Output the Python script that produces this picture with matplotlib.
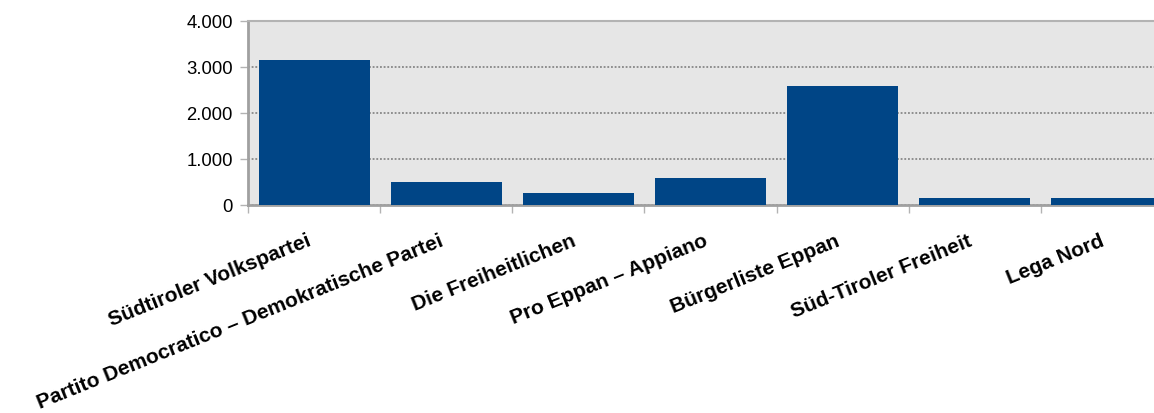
import matplotlib
matplotlib.use("Agg")
import matplotlib.pyplot as plt
from matplotlib.ticker import FuncFormatter, FixedLocator
import numpy as np

parties = [
    "Südtiroler Volkspartei",
    "Partito Democratico – Demokratische Partei",
    "Die Freiheitlichen",
    "Pro Eppan – Appiano",
    "Bürgerliste Eppan",
    "Süd-Tiroler Freiheit",
    "Lega Nord",
]
votes = [3150, 495, 255, 580, 2580, 148, 148]
yticks = [0, 1000, 2000, 3000, 4000]

plt.rcParams['font.family'] = ['Liberation Sans', 'DejaVu Sans']

fig = plt.figure(figsize=(11.54, 4.13), dpi=100)
W, H = 1154, 413
left, right, top, bottom = 248, 1173, 21, 205
ax = fig.add_axes([left / W, 1 - bottom / H, (right - left) / W, (bottom - top) / H])

x = np.arange(len(parties))
ax.set_facecolor('#e6e6e6')
ax.bar(x, votes, width=0.84, color='#004586', zorder=3)

ax.set_xlim(-0.5, len(parties) - 0.5)
ax.set_ylim(0, 4000)
ax.set_yticks(yticks)
ax.yaxis.set_major_formatter(FuncFormatter(lambda v, p: f"{int(v):,}".replace(",", ".")))
ax.grid(axis='y', color='#777777', linestyle=(0, (1.2, 1.2)), linewidth=1.1, zorder=2.7)

ax.set_xticks(x)
ax.set_xticklabels(parties, rotation=22, ha='right', va='top', fontweight='bold', fontsize=15)
ax.xaxis.set_minor_locator(FixedLocator(np.arange(-0.5, len(parties), 1.0)))
ax.tick_params(axis='x', which='major', length=0, pad=19)
ax.tick_params(axis='x', which='minor', length=6, width=1, color='#b3b3b3')
ax.tick_params(axis='y', length=6, width=1, color='#b3b3b3', labelsize=13.3, pad=5)

for s in ['left', 'bottom']:
    ax.spines[s].set_color('#a0a0a0')
    ax.spines[s].set_linewidth(2)
ax.spines['top'].set_color('#b3b3b3')
ax.spines['top'].set_linewidth(1.5)
ax.spines['right'].set_visible(False)

fig.savefig('out.png', dpi=100)
